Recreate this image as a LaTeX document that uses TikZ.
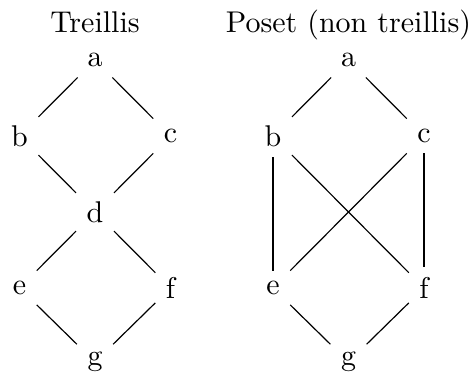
\documentclass[tikz,border=0pt]{standalone}
\begin{document}
\begin{tikzpicture}[x=0.3333pt,y=-0.3333pt,
  el/.style={draw=black, line width=0.4pt},
  ttl/.style={anchor=base, inner sep=0pt}]
\useasboundingbox (0,0) rectangle (472,375);
% titles
\node[ttl] (t1) at (95,32) {Treillis};
\node[ttl] (t2) at (348.5,32) {Poset (non treillis)};
% left lattice
\node (a1) at (95,60) {a};
\node (b1) at (19.5,136) {b};
\node (c1) at (170.5,136) {c};
\node (d1) at (95,212) {d};
\node (e1) at (19.5,288) {e};
\node (f1) at (170.5,288) {f};
\node (g1) at (95,362) {g};
\draw[el] (a1) -- (b1);
\draw[el] (a1) -- (c1);
\draw[el] (b1) -- (d1);
\draw[el] (c1) -- (d1);
\draw[el] (d1) -- (e1);
\draw[el] (d1) -- (f1);
\draw[el] (e1) -- (g1);
\draw[el] (f1) -- (g1);
% right poset
\node (a2) at (348.5,60) {a};
\node (b2) at (273,136) {b};
\node (c2) at (424,136) {c};
\node (e2) at (273,288) {e};
\node (f2) at (424,288) {f};
\node (g2) at (348.5,362) {g};
\draw[el] (a2) -- (b2);
\draw[el] (a2) -- (c2);
\draw[el] (b2) -- (e2);
\draw[el] (b2) -- (f2);
\draw[el] (c2) -- (e2);
\draw[el] (c2) -- (f2);
\draw[el] (e2) -- (g2);
\draw[el] (f2) -- (g2);
\end{tikzpicture}
\end{document}
